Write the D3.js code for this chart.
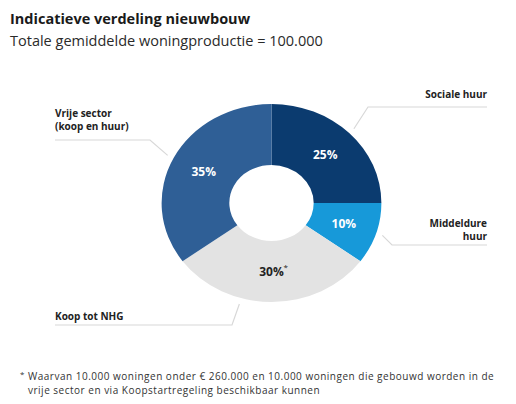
<!DOCTYPE html>
<html>
<head>
	<meta charset="UTF-8" />
	<title>Indicatieve verdeling nieuwbouw</title>
	<script src="https://cdn.jsdelivr.net/npm/d3@7"></script>
	<style>
		body { margin:0; background:#fff; }
		text { font-family:"Open Sans","Noto Sans",sans-serif; }
	</style>
</head>
<body>
	<div id="chart"></div>
	<script type="text/javascript">
		// data
		var categories = ["Sociale huur", "Middeldure huur", "Koop tot NHG", "Vrije sector (koop en huur)"];
		var values = [25, 10, 30, 35];
		var pctLabels = ["25%", "10%", "30%", "35%"];
		var colors = ["#0b3b6f", "#1799d9", "#e3e3e3", "#2f5f96"];

		var W = 516, H = 404;
		var cx = 271.5, cy = 203, rOut = 99, rIn = 38, sx = 1.11;

		var svg = d3.select("#chart").append("svg")
			.attr("width", W).attr("height", H);

		svg.append("text").attr("x", 10).attr("y", 24)
			.attr("font-size", 14.5).attr("font-weight", 700).attr("fill", "#1a1a1a")
			.text("Indicatieve verdeling nieuwbouw");
		svg.append("text").attr("x", 10).attr("y", 46)
			.attr("font-size", 14.5).attr("fill", "#2a2a2a")
			.text("Totale gemiddelde woningproductie = 100.000");

		var pie = d3.pie().sort(null).value(function(d) { return d; });
		var arcs = pie(values);
		var arc = d3.arc().innerRadius(rIn).outerRadius(rOut);

		// donut, slightly wider than tall like the original
		var g = svg.append("g").attr("transform", "translate(" + cx + "," + cy + ") scale(" + sx + ",1)");
		g.selectAll("path").data(arcs).enter().append("path")
			.attr("d", arc)
			.attr("fill", function(d, i) { return colors[i]; });

		// percentages
		svg.selectAll("text.pct").data(arcs).enter().append("text")
			.attr("class", "pct")
			.attr("x", function(d) { return cx + arc.centroid(d)[0] * sx; })
			.attr("y", function(d) { return cy + arc.centroid(d)[1] + 4; })
			.attr("text-anchor", "middle")
			.attr("font-size", 12).attr("font-weight", 700)
			.attr("fill", function(d, i) { return i == 2 ? "#222" : "#fff"; })
			.text(function(d, i) { return pctLabels[i]; });
		// asterisk on 30%
		var c30 = arc.centroid(arcs[2]);
		svg.append("text")
			.attr("x", cx + c30[0] * sx + 12).attr("y", cy + c30[1] - 2)
			.attr("font-size", 8).attr("fill", "#222").text("*");

		// label layout (lines of text, anchor, baseline, underline)
		var labelLines = [["Sociale huur"], ["Middeldure", "huur"], ["Koop tot NHG"], ["Vrije sector", "(koop en huur)"]];
		var layout = [
			{ x: 487, y: 98, anchor: "end", ux0: 368, ux1: 487, uy: 107, ang: 45 },
			{ x: 487, y: 227, anchor: "end", ux0: 392, ux1: 487, uy: 245, ang: 108 },
			{ x: 55, y: 320, anchor: "start", ux0: 55, ux1: 232, uy: 325, ang: 196 },
			{ x: 55, y: 117, anchor: "start", ux0: 55, ux1: 150, uy: 140, ang: 297 }
		];

		layout.forEach(function(L, i) {
			var a = L.ang * Math.PI / 180, r = rOut + 6;
			var px = cx + Math.sin(a) * r * sx, py = cy - Math.cos(a) * r;
			var jx = L.anchor == "end" ? L.ux0 : L.ux1;
			svg.append("polyline")
				.attr("points", [[px, py], [jx, L.uy], [L.anchor == "end" ? L.ux1 : L.ux0, L.uy]].map(function(p) { return p.join(","); }).join(" "))
				.attr("fill", "none").attr("stroke", "#d8d8d8").attr("stroke-width", 1.2);
			var t = svg.append("text")
				.attr("text-anchor", L.anchor)
				.attr("font-size", 10).attr("font-weight", 700).attr("fill", "#222");
			labelLines[i].forEach(function(s, k) {
				t.append("tspan").attr("x", L.x).attr("y", L.y + k * 13).text(s);
			});
		});

		// footnote
		svg.append("text").attr("x", 20).attr("y", 377)
			.attr("font-size", 8).attr("fill", "#333").text("*");
		svg.append("text").attr("x", 28).attr("y", 380)
			.attr("font-size", 10).attr("letter-spacing", 0.5).attr("fill", "#333")
			.text("Waarvan 10.000 woningen onder € 260.000 en 10.000 woningen die gebouwd worden in de");
		svg.append("text").attr("x", 28).attr("y", 394)
			.attr("font-size", 10).attr("letter-spacing", 0.5).attr("fill", "#333")
			.text("vrije sector en via Koopstartregeling beschikbaar kunnen");
	</script>
</body>
</html>
